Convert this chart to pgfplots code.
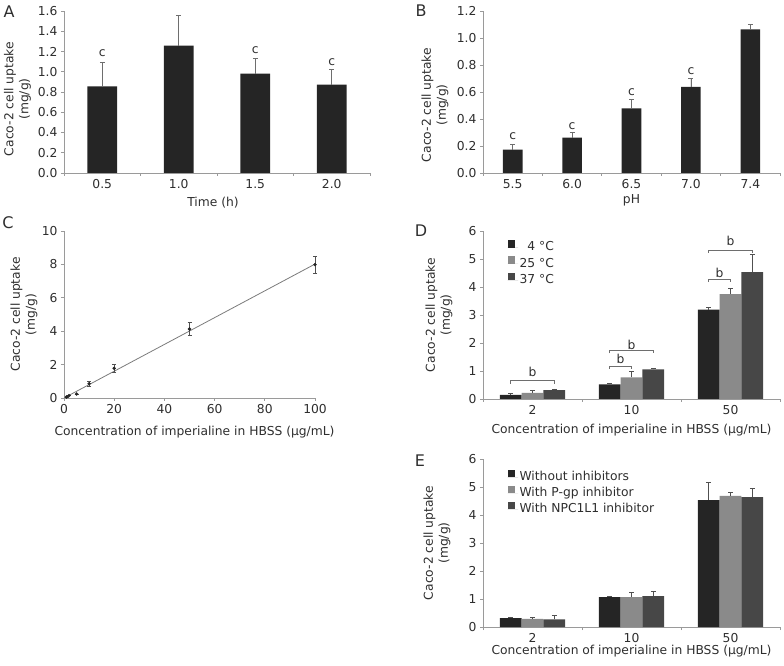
\documentclass[border=0pt]{standalone}
\usepackage{fontspec}
\setmainfont{DejaVu Sans}
\usepackage{pgfplots}
\pgfplotsset{compat=1.18}
\definecolor{txt}{HTML}{2E2E2E}
\definecolor{axisgray}{HTML}{9A9A9A}
\definecolor{barblack}{HTML}{252525}
\definecolor{bargray}{HTML}{8A8A8A}
\definecolor{bardark}{HTML}{474747}
\definecolor{errgray}{HTML}{6E6E6E}
\definecolor{errdark}{HTML}{505050}
\newcommand{\fs}{\fontsize{12.3bp}{15bp}\selectfont}
\pgfplotsset{
  panel/.style={
    scale only axis, anchor=south west, clip=false,
    axis x line=bottom, axis y line=left,
    axis line style={-, draw=axisgray, line width=0.8bp},
    every tick/.style={draw=axisgray, line width=0.7bp},
    tick align=outside,
    major tick length=3bp, minor tick length=3bp,
    ticklabel style={font=\fs, text=txt},
    label style={font=\fs, text=txt},
    /pgf/number format/assume math mode=true,
    ylabel={Caco-2 cell uptake\\(mg/g)},
    ylabel style={align=center, anchor=center},
    xlabel style={anchor=center},
  },
  cat/.style={
    every major x tick/.append style={draw=none},
  },
  leg/.style={
    legend style={draw=none, fill=none, font=\fs, text=txt,
      nodes={inner sep=1.5bp, text height=8.8bp, text depth=2.6bp},
      row sep=1.5bp, anchor=north west},
    legend cell align=left,
    legend image code/.code={\fill[##1,draw=none] (0bp,0bp) rectangle (7.5bp,7.5bp); \path (0bp,0bp) -- (10.5bp,0bp);},
  },
}
\begin{document}
\begin{tikzpicture}
\path[use as bounding box] (0bp,0bp) rectangle (784bp,666bp);
% Panel letters
\node[font=\fontsize{16bp}{16bp}\selectfont, text=txt] at (9bp,654bp) {A};
\node[font=\fontsize{16bp}{16bp}\selectfont, text=txt] at (421bp,655bp) {B};
\node[font=\fontsize{16bp}{16bp}\selectfont, text=txt] at (8bp,443bp) {C};
\node[font=\fontsize{16bp}{16bp}\selectfont, text=txt] at (421bp,435bp) {D};
\node[font=\fontsize{16bp}{16bp}\selectfont, text=txt] at (420bp,205bp) {E};

% ---------------- A ----------------
\begin{axis}[panel, cat, at={(64bp,493bp)}, width=306bp, height=162bp,
  xmin=-0.5, xmax=3.5, ymin=0, ymax=1.6,
  ytick={0,0.2,0.4,0.6,0.8,1.0,1.2,1.4,1.6},
  yticklabel style={/pgf/number format/.cd, fixed, fixed zerofill, precision=1},
  xtick={0,1,2,3}, xticklabels={0.5,1.0,1.5,2.0},
  minor xtick={-0.5,0.5,1.5,2.5,3.5},
  ybar, bar width=0.39,
  xlabel={Time (h)},
  xlabel style={at={(axis description cs:0.487,-0.185)}},
  ylabel style={at={(axis description cs:-0.152,0.457)}},
]
\addplot[fill=barblack, draw=none,
  error bars/.cd, y dir=plus, y explicit,
  error bar style={draw=errgray, line width=0.8bp},
  error mark options={rotate=90, draw=errgray, mark size=2.5bp, line width=0.8bp}]
  table[x=x, y=y, y error=e] {
x y e
0 0.856 0.240
1 1.258 0.300
2 0.981 0.148
3 0.872 0.148
};
\node[font=\fs, text=txt] at (axis cs:0,1.185) {c};
\node[font=\fs, text=txt] at (axis cs:2,1.215) {c};
\node[font=\fs, text=txt] at (axis cs:3,1.096) {c};
\end{axis}

% ---------------- B ----------------
\begin{axis}[panel, cat, at={(483bp,493bp)}, width=297bp, height=162bp,
  xmin=-0.5, xmax=4.5, ymin=0, ymax=1.2,
  ytick={0,0.2,0.4,0.6,0.8,1.0,1.2},
  yticklabel style={/pgf/number format/.cd, fixed, fixed zerofill, precision=1},
  xtick={0,1,2,3,4}, xticklabels={5.5,6.0,6.5,7.0,7.4},
  minor xtick={-0.5,0.5,1.5,2.5,3.5,4.5},
  ybar, bar width=0.33,
  xlabel={pH},
  xlabel style={at={(axis description cs:0.5,-0.17)}},
  ylabel style={at={(axis description cs:-0.162,0.42)}},
]
\addplot[fill=barblack, draw=none,
  error bars/.cd, y dir=plus, y explicit,
  error bar style={draw=errgray, line width=0.8bp},
  error mark options={rotate=90, draw=errgray, mark size=2.5bp, line width=0.8bp}]
  table[x=x, y=y, y error=e] {
x y e
0 0.173 0.039
1 0.262 0.037
2 0.479 0.064
3 0.637 0.064
4 1.064 0.035
};
\node[font=\fs, text=txt] at (axis cs:0,0.274) {c};
\node[font=\fs, text=txt] at (axis cs:1,0.348) {c};
\node[font=\fs, text=txt] at (axis cs:2,0.602) {c};
\node[font=\fs, text=txt] at (axis cs:3,0.756) {c};
\end{axis}

% ---------------- C ----------------
\begin{axis}[panel, at={(64bp,268bp)}, width=251bp, height=167bp,
  xmin=0, xmax=100, ymin=0, ymax=10,
  xtick={0,20,40,60,80,100}, ytick={0,2,4,6,8,10},
  xlabel={Concentration of imperialine in HBSS (µg/mL)},
  xlabel style={at={(axis description cs:0.52,-0.204)}},
  ylabel style={at={(axis description cs:-0.159,0.5)}},
]
\addplot[color=axisgray!80!black, line width=0.8bp, no marks] coordinates {(0,0) (100,8.02)};
\addplot[only marks, mark=*, mark size=1.5bp, color=barblack,
  error bars/.cd, y dir=both, y explicit,
  error bar style={draw=errdark, line width=0.6bp},
  error mark options={rotate=90, draw=errdark, mark size=2bp, line width=0.6bp}]
  table[x=x, y=y, y error=e] {
x y e
1 0.06 0.0
2 0.14 0.0
5 0.24 0.0
10 0.85 0.15
20 1.78 0.24
50 4.13 0.38
100 7.99 0.50
};
\end{axis}

% ---------------- D ----------------
\begin{axis}[panel, cat, at={(483bp,267bp)}, width=297bp, height=168bp,
  xmin=-0.5, xmax=2.5, ymin=0, ymax=6,
  ytick={0,1,2,3,4,5,6},
  xtick={0,1,2}, xticklabels={2,10,50},
  minor xtick={-0.5,0.5,1.5,2.5},
  ybar=0pt, bar width=0.22,
  leg,
  xlabel={Concentration of imperialine in HBSS (µg/mL)},
  xlabel style={at={(axis description cs:0.5,-0.185)}},
  ylabel style={at={(axis description cs:-0.148,0.5)}},
  legend style={at={(axis description cs:0.072,0.958)}},
  error bars/y dir=plus, error bars/y explicit,
  error bars/error bar style={draw=errdark, line width=0.8bp},
  error bars/error mark options={rotate=90, draw=errdark, mark size=2.5bp, line width=0.8bp},
]
\addplot[fill=barblack, draw=none] table[x=x, y=y, y error=e] {
x y e
0 0.15 0.05
1 0.52 0.05
2 3.19 0.09
};
\addplot[fill=bargray, draw=none] table[x=x, y=y, y error=e] {
x y e
0 0.22 0.07
1 0.77 0.22
2 3.75 0.19
};
\addplot[fill=bardark, draw=none] table[x=x, y=y, y error=e] {
x y e
0 0.32 0.04
1 1.06 0.04
2 4.53 0.62
};
\legend{\phantom{2}4 °C, 25 °C, 37 °C}
% brackets
\draw[errgray, line width=0.8bp] (axis cs:-0.22,0.55) -- (axis cs:-0.22,0.65) -- (axis cs:0.22,0.65) -- (axis cs:0.22,0.55);
\node[font=\fs, text=txt] at (axis cs:0,0.975) {b};
\draw[errgray, line width=0.8bp] (axis cs:0.78,1.08) -- (axis cs:0.78,1.18) -- (axis cs:1.0,1.18) -- (axis cs:1.0,1.08);
\node[font=\fs, text=txt] at (axis cs:0.89,1.43) {b};
\draw[errgray, line width=0.8bp] (axis cs:0.78,1.63) -- (axis cs:0.78,1.73) -- (axis cs:1.22,1.73) -- (axis cs:1.22,1.63);
\node[font=\fs, text=txt] at (axis cs:1.0,1.94) {b};
\draw[errgray, line width=0.8bp] (axis cs:1.78,4.17) -- (axis cs:1.78,4.27) -- (axis cs:2.0,4.27) -- (axis cs:2.0,4.17);
\node[font=\fs, text=txt] at (axis cs:1.89,4.52) {b};
\draw[errgray, line width=0.8bp] (axis cs:1.78,5.22) -- (axis cs:1.78,5.32) -- (axis cs:2.22,5.32) -- (axis cs:2.22,5.22);
\node[font=\fs, text=txt] at (axis cs:2.0,5.65) {b};
\end{axis}

% ---------------- E ----------------
\begin{axis}[panel, cat, at={(483bp,39bp)}, width=297bp, height=168bp,
  xmin=-0.5, xmax=2.5, ymin=0, ymax=6,
  ytick={0,1,2,3,4,5,6},
  xtick={0,1,2}, xticklabels={2,10,50},
  minor xtick={-0.5,0.5,1.5,2.5},
  ybar=0pt, bar width=0.22,
  leg,
  xlabel={Concentration of imperialine in HBSS (µg/mL)},
  xlabel style={at={(axis description cs:0.5,-0.143)}},
  ylabel style={at={(axis description cs:-0.155,0.5)}},
  legend style={at={(axis description cs:0.072,0.95)}},
  error bars/y dir=plus, error bars/y explicit,
  error bars/error bar style={draw=errdark, line width=0.8bp},
  error bars/error mark options={rotate=90, draw=errdark, mark size=2.5bp, line width=0.8bp},
]
\addplot[fill=barblack, draw=none] table[x=x, y=y, y error=e] {
x y e
0 0.32 0.04
1 1.07 0.03
2 4.53 0.63
};
\addplot[fill=bargray, draw=none] table[x=x, y=y, y error=e] {
x y e
0 0.29 0.04
1 1.07 0.18
2 4.68 0.13
};
\addplot[fill=bardark, draw=none] table[x=x, y=y, y error=e] {
x y e
0 0.27 0.15
1 1.10 0.18
2 4.64 0.31
};
\legend{Without inhibitors, With P-gp inhibitor, With NPC1L1 inhibitor}
\end{axis}
\end{tikzpicture}
\end{document}
